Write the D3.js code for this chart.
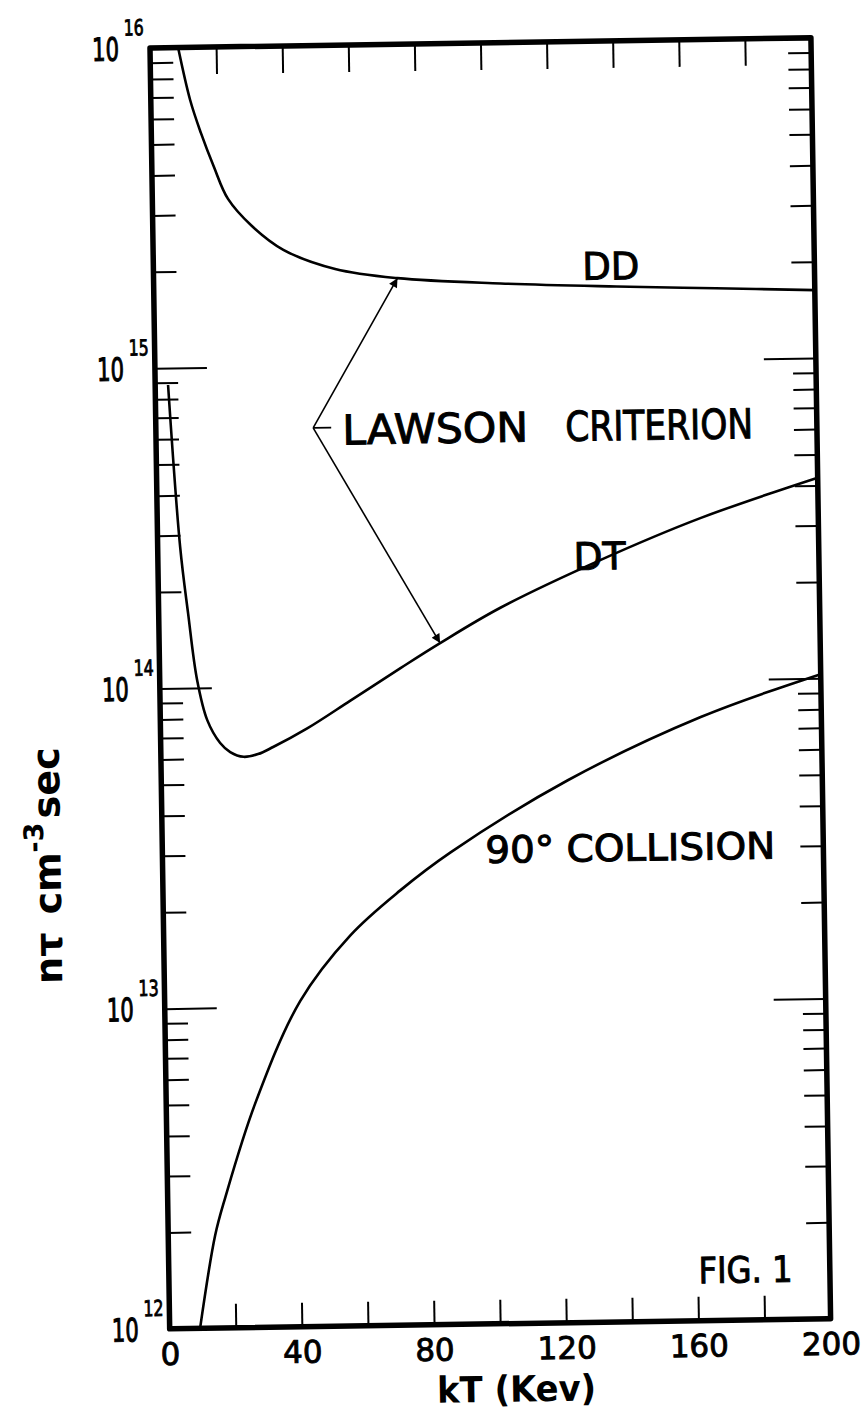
<!DOCTYPE html>
<html><head><meta charset="utf-8">
<script src="https://cdn.jsdelivr.net/npm/d3@7"></script>
<style>body{margin:0;background:#fff} svg{display:block}</style>
</head><body>
<script>
// ---- data (kT in keV, n*tau in cm^-3 s) ----
const ddKT  = [8.5, 11.9, 15.0, 18.8, 22.9, 30, 39.4, 55, 73.8, 105, 140, 170, 200];
const ddNT  = [1e16, 6.85e15, 5.4e15, 4.22e15, 3.35e15, 2.75e15, 2.31e15, 2.0e15, 1.86e15, 1.77e15, 1.71e15, 1.67e15, 1.63e15];
const dtKT  = [3.9, 6.8, 8.9, 11.3, 14.2, 18, 21, 25, 29.4, 34, 44.4, 57.6, 72.9, 85, 103.4, 134, 164.5, 200];
const dtNT  = [8.85e14, 2.76e14, 1.71e14, 1.06e14, 7.92e13, 6.71e13, 6.28e13, 6.06e13, 6.17e13, 6.48e13, 7.38e13, 8.97e13, 1.127e14, 1.343e14, 1.72e14, 2.4e14, 3.21e14, 4.23e14];
const colKT = [9.2, 14.2, 17.4, 26.9, 41, 56.5, 71.8, 87.2, 123, 163.5, 200];
const colNT = [1e12, 1.95e12, 2.55e12, 5.0e12, 1.04e13, 1.66e13, 2.28e13, 2.98e13, 4.94e13, 7.67e13, 1.03e14];
const xTickValues = [0,20,40,60,80,100,120,140,160,180,200];
const xTickLabels = [0,40,80,120,160,200];
const yDecades   = [1e12,1e13,1e14,1e15,1e16];
const yExponents = ["12","13","14","15","16"];
const curveLabels = ["DD","DT","90° COLLISION"];
const lawsonText = ["LAWSON","CRITERION"];

// ---- layout ----
const W = 661, H = 1281;
const svg = d3.select("body").append("svg").attr("width",865).attr("height",1410);
const defs = svg.append("defs");
defs.append("clipPath").attr("id","plot").append("rect").attr("width",W).attr("height",H);
defs.append("marker").attr("id","ah").attr("viewBox","0 0 10 10").attr("refX",10).attr("refY",5)
  .attr("markerWidth",15).attr("markerHeight",9).attr("markerUnits","userSpaceOnUse").attr("orient","auto")
  .append("path").attr("d","M0,0L10,5L0,10Z").attr("fill","#000");

const g = svg.append("g").attr("transform","translate(150,48) rotate(-0.88)")
  .attr("font-family","'DejaVu Sans', sans-serif");

const x = d3.scaleLinear().domain([0,200]).range([0,W]);
const y = d3.scaleLog().domain([1e12,1e16]).range([H,0]);

const minors = [];
[1e12,1e13,1e14,1e15].forEach(d => { for (let k=2;k<=9;k++) minors.push(d*k); });
const majorsInner = [1e13,1e14,1e15];

function styleAxis(sel, w){
  sel.select(".domain").remove();
  sel.selectAll(".tick line").attr("stroke","#000").attr("stroke-width",w);
}
// bottom
g.append("g").attr("transform",`translate(0,${H})`)
  .call(d3.axisBottom(x).tickValues(xTickValues).tickSize(-24).tickPadding(14)
    .tickFormat(d => xTickLabels.includes(d) ? d : ""))
  .call(s => styleAxis(s,2))
  .call(s => s.selectAll("text").attr("fill","#000").attr("font-size",31)
    .attr("font-family","'DejaVu Sans', sans-serif").attr("stroke","#000").attr("stroke-width",0.9));
// top
g.append("g").call(d3.axisTop(x).tickValues(xTickValues.slice(1,-1)).tickSize(-27).tickFormat(""))
  .call(s => styleAxis(s,2));
// left
g.append("g").call(d3.axisLeft(y).tickValues(minors).tickSize(-23).tickFormat("")).call(s => styleAxis(s,2));
g.append("g").call(d3.axisLeft(y).tickValues(majorsInner).tickSize(-52).tickFormat("")).call(s => styleAxis(s,2));
// right
g.append("g").attr("transform",`translate(${W},0)`)
  .call(d3.axisRight(y).tickValues(minors).tickSize(-23).tickFormat("")).call(s => styleAxis(s,2));
g.append("g").attr("transform",`translate(${W},0)`)
  .call(d3.axisRight(y).tickValues(majorsInner).tickSize(-52).tickFormat("")).call(s => styleAxis(s,2));

// y decade labels: "10" plus raised exponent, horizontally condensed via scale
yDecades.forEach((d,i) => {
  const yy = y(d);
  g.append("text").attr("transform",`translate(-31,${yy+12}) scale(0.66,1)`).attr("text-anchor","end")
    .attr("font-size",32).attr("stroke","#000").attr("stroke-width",1.1).text("10");
  g.append("text").attr("transform",`translate(-26,${yy-13}) scale(0.72,1)`)
    .attr("font-size",22).attr("stroke","#000").attr("stroke-width",0.9).text(yExponents[i]);
});

// frame
g.append("rect").attr("width",W).attr("height",H).attr("fill","none").attr("stroke","#000")
  .attr("stroke-width",5.5).attr("stroke-linejoin","round");

// curves
const line = d3.line().x(d => x(d[0])).y(d => y(d[1])).curve(d3.curveCatmullRom.alpha(0.5));
const curves = g.append("g").attr("clip-path","url(#plot)");
[[ddKT,ddNT],[dtKT,dtNT],[colKT,colNT]].forEach(([k,v]) => {
  curves.append("path").attr("d", line(d3.zip(k,v))).attr("fill","none").attr("stroke","#000")
    .attr("stroke-width",2.6).attr("stroke-linejoin","round");
});

// curve labels (positions in data space)
const txt = (kt, nt, s, size, len) => {
  const t = g.append("text").attr("x",x(kt)).attr("y",y(nt)).attr("font-size",size)
    .attr("stroke","#000").attr("stroke-width",1).text(s);
  if (len) t.attr("textLength",len).attr("lengthAdjust","spacingAndGlyphs");
  return t;
};
txt(129.8, 1.8e15, curveLabels[0], 38, 57);
txt(125.8, 2.24e14, curveLabels[1], 38, 52);
txt(97.7, 2.75e13, curveLabels[2], 37, 290);
txt(160.3, 1.31e12, "FIG. 1", 36, 94);

// Lawson annotation
const vtx = [x(47.6), y(6.4e14)];
const tipDD = [x(73.8), y(1.86e15)];
const tipDT = [x(85), y(1.343e14)];
[tipDD, tipDT].forEach(t => {
  g.append("line").attr("x1",vtx[0]).attr("y1",vtx[1]).attr("x2",t[0]).attr("y2",t[1])
    .attr("stroke","#000").attr("stroke-width",1.6).attr("marker-end","url(#ah)");
});
g.append("line").attr("x1",vtx[0]).attr("y1",vtx[1]).attr("x2",vtx[0]+18).attr("y2",vtx[1])
  .attr("stroke","#000").attr("stroke-width",1.6);
const lt = g.append("text").attr("x",vtx[0]+29).attr("y",vtx[1]+17).attr("font-size",41)
  .attr("stroke","#000").attr("stroke-width",1);
lt.append("tspan").attr("textLength",186).attr("lengthAdjust","spacingAndGlyphs").text(lawsonText[0]);
lt.append("tspan").attr("x",vtx[0]+252).attr("textLength",188).attr("lengthAdjust","spacingAndGlyphs").text(lawsonText[1]);

// axis titles
g.append("text").attr("x",346).attr("y",1359).attr("text-anchor","middle").attr("font-size",36)
  .attr("font-weight","bold").attr("textLength",159).attr("lengthAdjust","spacingAndGlyphs").text("kT (Kev)");
const yt = g.append("text").attr("transform","translate(-102,816) rotate(-90)").attr("text-anchor","middle")
  .attr("font-size",38).attr("font-weight","bold");
yt.append("tspan").text("nτ");
yt.append("tspan").attr("dx",18).text("cm");
yt.append("tspan").attr("dy",-17).attr("font-size",27).text("-3");
yt.append("tspan").attr("dy",17).attr("dx",4).text("sec");
</script>
</body></html>
